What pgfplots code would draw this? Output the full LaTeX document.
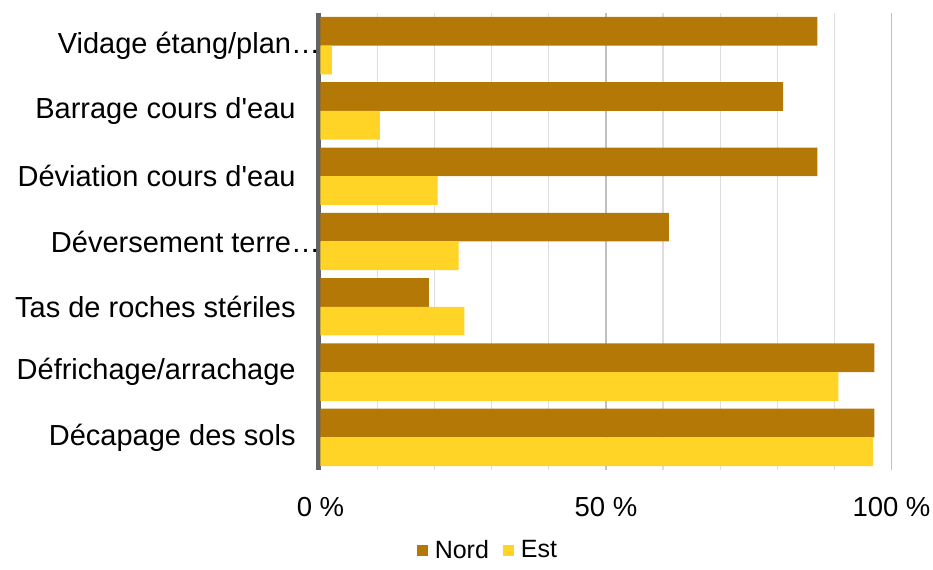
\documentclass[border=0pt]{standalone}
\usepackage{pgfplots}
\pgfplotsset{compat=1.18}
\usepackage{fontspec}
\setmainfont{Liberation Sans}

\definecolor{nord}{RGB}{180,120,6}
\definecolor{est}{RGB}{255,212,38}
\definecolor{gridminor}{RGB}{222,222,222}
\definecolor{gridmajor}{RGB}{192,192,192}
\definecolor{axisgray}{RGB}{100,100,100}

\begin{document}
\begin{tikzpicture}
\begin{axis}[
    name=ax,
    scale only axis,
    width=285.5pt,
    height=228.5pt,
    xbar,
    bar width=14.35pt,
    xmin=0, xmax=100,
    ymin=-0.5, ymax=6.5,
    axis y line*=left,
    axis x line*=bottom,
    x axis line style={draw=none},
    y axis line style={line width=2.5pt, color=axisgray, -, xshift=-0.9pt},
    xtick={0,50,100},
    xticklabels={0 \%, 50 \%, 100 \%},
    minor xtick={10,20,30,40,60,70,80,90},
    xmajorgrids=true,
    xminorgrids=true,
    major grid style={gridmajor, line width=0.6pt},
    minor grid style={gridminor, line width=0.6pt},
    major tick length=0pt,
    minor tick length=0pt,
    ytick={0,1,2,3,4,5,6},
    yticklabels={
        Décapage des sols\kern12.25pt,
        Défrichage/arrachage\kern12.25pt,
        Tas de roches stériles\kern12.25pt,
        Déversement terre…,
        Déviation cours d\textquotesingle eau\kern12.25pt,
        Barrage cours d\textquotesingle eau\kern12.25pt,
        Vidage étang/plan…
    },
    yticklabel style={anchor=east, inner sep=0pt, xshift=0pt,
        font=\fontsize{14.5}{17}\selectfont},
    xticklabel style={anchor=north, inner sep=0pt, yshift=-13.5pt,
        font=\fontsize{13.75}{16.5}\selectfont},
    legend style={
        at={(0.295,-0.177)},
        anchor=center,
        draw=none,
        legend columns=2,
        font=\fontsize{12.5}{15}\selectfont,
        /tikz/every even column/.append style={column sep=5pt},
        /tikz/every odd column/.append style={column sep=0pt},
    },
    legend cell align=left,
    legend image code/.code={\fill[#1] (0pt,-2.75pt) rectangle (5.5pt,2.75pt);},
]

% Nord (upper bar of each pair)
\addplot[draw=none, fill=nord, bar shift=7.175pt] coordinates {
    (97,0) (97,1) (19,2) (61,3) (87,4) (81,5) (87,6)
};

% Est (lower bar of each pair)
\addplot[draw=none, fill=est, bar shift=-7.175pt] coordinates {
    (96.8,0) (90.7,1) (25.2,2) (24.2,3) (20.5,4) (10.4,5) (2,6)
};

\legend{\hspace{1.5pt}Nord, \hspace{1.5pt}Est}
\end{axis}
\path ([xshift=-160.25pt,yshift=-46pt]ax.south west) rectangle ([xshift=20.75pt,yshift=6.5pt]ax.north east);
\end{tikzpicture}
\end{document}
